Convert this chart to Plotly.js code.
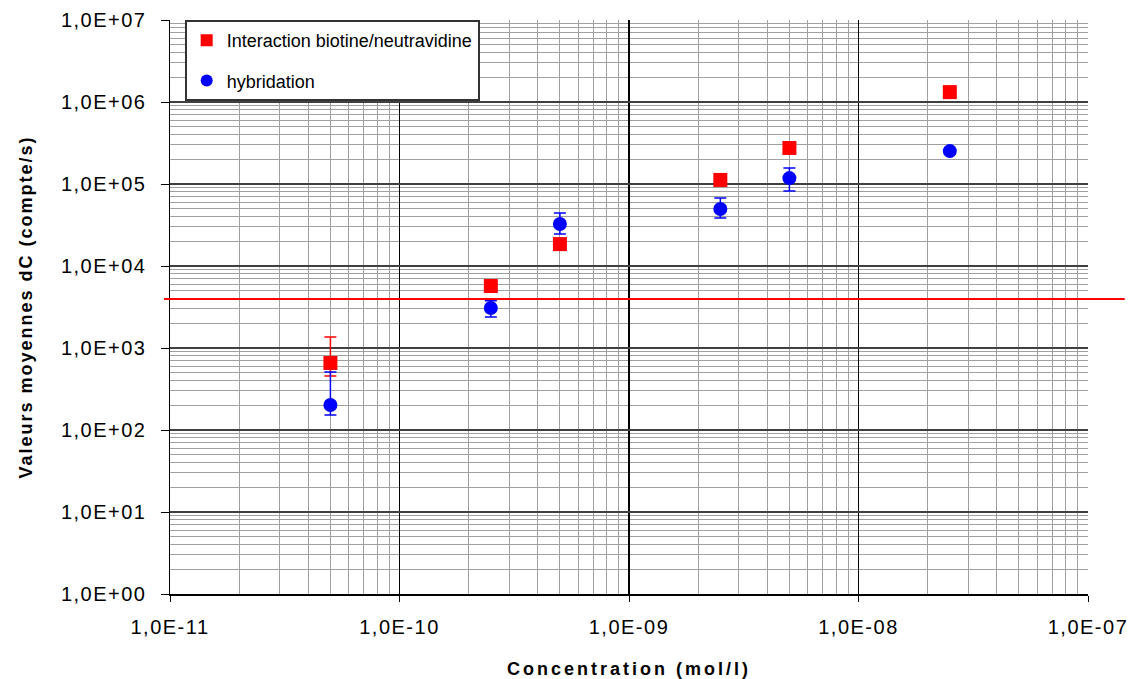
<!DOCTYPE html>
<html>
<head>
<meta charset="utf-8">
<script src="https://cdn.plot.ly/plotly-3.0.1.min.js"></script>
<style>
html,body{margin:0;padding:0;background:#fff;}
#chart{width:1134px;height:679px;}
#chart .xtick text, #chart .ytick text{letter-spacing:1.5px;}
#chart .g-xtitle text{letter-spacing:3px;}
#chart .g-ytitle text{letter-spacing:2px;}
</style>
</head>
<body>
<div id="chart"></div>
<script>
// Data
const concentrations = [5e-11, 2.5e-10, 5e-10, 2.5e-9, 5e-9, 2.5e-8];
const biotineValues = [656, 5700, 18500, 112000, 275000, 1320000];
const biotineErrPlus = [704, 500, 2000, 8000, 15000, 60000];
const biotineErrMinus = [200, 500, 2000, 8000, 15000, 60000];
const hybridValues = [202, 3080, 32500, 49500, 118000, 252000];
const hybridErrPlus = [307, 690, 11800, 18000, 39000, 10000];
const hybridErrMinus = [50, 690, 8000, 11000, 36000, 10000];
const thresholdValue = 3960;

const yTickVals = [1, 10, 100, 1000, 10000, 100000, 1000000, 10000000];
const yTickText = ["1,0E+00", "1,0E+01", "1,0E+02", "1,0E+03", "1,0E+04", "1,0E+05", "1,0E+06", "1,0E+07"];
const xTickVals = [1e-11, 1e-10, 1e-9, 1e-8, 1e-7];
const xTickText = ["1,0E-11", "1,0E-10", "1,0E-09", "1,0E-08", "1,0E-07"];

const seriesNames = ["Interaction biotine/neutravidine", "hybridation"];
const xTitle = "Concentration (mol/l)";
const yTitle = "Valeurs moyennes dC (compte/s)";

const font = "Liberation Sans, Arial, sans-serif";

const traces = [
  {
    x: concentrations, y: biotineValues, type: "scatter", mode: "markers",
    name: seriesNames[0], legendgroup: "a",
    marker: {symbol: "square", size: 14, color: "#ff0000"},
    error_y: {type: "data", symmetric: false, array: biotineErrPlus, arrayminus: biotineErrMinus,
              color: "#ff0000", thickness: 1.5, width: 6}
  },
  {
    x: concentrations, y: hybridValues, type: "scatter", mode: "markers",
    name: seriesNames[1], legendgroup: "b",
    marker: {symbol: "circle", size: 14, color: "#0000ff"},
    error_y: {type: "data", symmetric: false, array: hybridErrPlus, arrayminus: hybridErrMinus,
              color: "#0000ff", thickness: 1.5, width: 6}
  }
];

const layout = {
  width: 1134, height: 679,
  margin: {l: 170, r: 46, t: 20, b: 85},
  paper_bgcolor: "#ffffff", plot_bgcolor: "#ffffff",
  font: {family: font, size: 16, color: "#000000"},
  showlegend: true,
  legend: {
    x: 0.016, y: 1, xanchor: "left", yanchor: "top",
    bgcolor: "#ffffff", bordercolor: "#333333", borderwidth: 2,
    font: {family: font, size: 18, color: "#000000"},
    tracegroupgap: 14, itemwidth: 30, itemsizing: "constant"
  },
  xaxis: {
    type: "log", range: [-11, -7],
    tickvals: xTickVals, ticktext: xTickText,
    ticks: "outside", ticklen: 6, tickcolor: "#000000", ticklabelstandoff: 8,
    showline: true, linecolor: "#000000", linewidth: 1.5, mirror: false,
    showgrid: true, gridcolor: "#000000", gridwidth: 1.5,
    minor: {dtick: "D1", showgrid: true, gridcolor: "#a0a0a0", gridwidth: 1, ticks: ""},
    zeroline: false,
    tickfont: {family: font, size: 20, color: "#000000"},
    title: {text: xTitle, font: {family: font, size: 18, color: "#000000", weight: "bold"}, standoff: 26}
  },
  yaxis: {
    type: "log", range: [0, 7],
    tickvals: yTickVals, ticktext: yTickText,
    ticks: "outside", ticklen: 8, tickcolor: "#000000", ticklabelstandoff: 10,
    showline: true, linecolor: "#000000", linewidth: 1.5, mirror: false,
    showgrid: true, gridcolor: "#404040", gridwidth: 2,
    minor: {dtick: "D1", showgrid: true, gridcolor: "#a0a0a0", gridwidth: 1, ticks: ""},
    zeroline: false,
    tickfont: {family: font, size: 20, color: "#000000"},
    title: {text: yTitle, font: {family: font, size: 18, color: "#000000", weight: "bold"}, standoff: 34}
  },
  shapes: [
    {type: "line", xref: "paper", yref: "y", x0: -0.0065, x1: 1.04, y0: thresholdValue, y1: thresholdValue,
     line: {color: "#ff0000", width: 2}, layer: "above"}
  ]
};

Plotly.newPlot("chart", traces, layout, {displayModeBar: false, staticPlot: true});
</script>
</body>
</html>
